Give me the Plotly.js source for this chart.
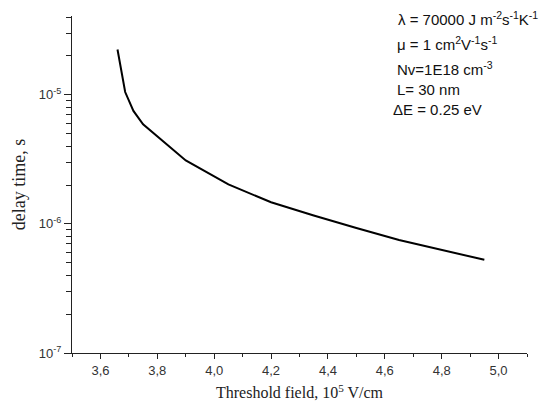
<!DOCTYPE html>
<html>
<head>
<meta charset="utf-8">
<script src="https://cdn.plot.ly/plotly-3.0.1.min.js"></script>
<style>html,body{margin:0;padding:0;background:#fff;}#chart{width:553px;height:411px;}</style>
</head>
<body>
<div id="chart"></div>
<script>
// Data
var fieldValues = [3.66, 3.687, 3.716, 3.75, 3.9, 4.05, 4.2, 4.35, 4.5, 4.65, 4.95];
var delayValues = [2.24e-5, 1.05e-5, 7.5e-6, 5.9e-6, 3.1e-6, 2.02e-6, 1.47e-6, 1.16e-6, 9.3e-7, 7.5e-7, 5.27e-7];
var yTickVals = [1e-7, 1e-6, 1e-5];
var yTickText = ['10<sup>-7</sup>', '10<sup>-6</sup>', '10<sup>-5</sup>'];
var xTickVals = [3.6, 3.8, 4.0, 4.2, 4.4, 4.6, 4.8, 5.0];
var xTickText = ['3,6', '3,8', '4,0', '4,2', '4,4', '4,6', '4,8', '5,0'];
var paramLines = [
  'λ = 70000 J m<sup>-2</sup>s<sup>-1</sup>K<sup>-1</sup>',
  'μ = 1 cm<sup>2</sup>V<sup>-1</sup>s<sup>-1</sup>',
  'Nv=1E18 cm<sup>-3</sup>',
  'L= 30 nm',
  'ΔE = 0.25 eV'
];

// minor tick positions for log axis (2..9 per decade)
var yMinor = [];
[1e-7, 1e-6, 1e-5].forEach(function (d) {
  for (var k = 2; k <= 9; k++) { yMinor.push(k * d); }
});

var plotL = 72, plotR = 527, plotT = 16, plotB = 353;
function px(x) { return (x - plotL) / (plotR - plotL); }
function py(y) { return (plotB - y) / (plotB - plotT); }
var lineX = [396, 395, 395, 395, 391];
var lineY = [19, 44, 68, 89, 109];

var annotations = paramLines.map(function (t, i) {
  return {
    xref: 'paper', yref: 'paper', x: px(lineX[i]), y: py(lineY[i]),
    xanchor: 'left', yanchor: 'middle', showarrow: false, text: t,
    font: {family: 'Liberation Sans, Arial, sans-serif', size: 15, color: '#111'}
  };
});

var trace = {
  x: fieldValues, y: delayValues, type: 'scatter', mode: 'lines',
  line: {color: '#000', width: 2}, hoverinfo: 'none'
};

var layout = {
  width: 553, height: 411,
  margin: {l: plotL, r: 553 - plotR, t: plotT, b: 411 - plotB},
  paper_bgcolor: '#fff', plot_bgcolor: '#fff',
  showlegend: false,
  xaxis: {
    range: [3.5, 5.1], showgrid: false, zeroline: false,
    showline: true, linecolor: '#222', linewidth: 1,
    ticks: 'outside', ticklen: 5, tickwidth: 1, tickcolor: '#222',
    tickmode: 'array', tickvals: xTickVals, ticktext: xTickText,
    tickfont: {family: 'Liberation Sans, Arial, sans-serif', size: 13, color: '#333'},
    minor: {tickmode: 'linear', tick0: 3.5, dtick: 0.1, ticks: 'outside', ticklen: 3, tickwidth: 1, tickcolor: '#222', showgrid: false},
    title: {text: 'Threshold field, 10<sup>5</sup> V/cm', standoff: 10,
      font: {family: 'Liberation Serif, Times New Roman, serif', size: 16, color: '#222'}}
  },
  yaxis: {
    type: 'log', range: [-7, -4.39], showgrid: false, zeroline: false,
    showline: true, linecolor: '#222', linewidth: 1,
    ticks: 'outside', ticklen: 7, tickwidth: 1, tickcolor: '#222',
    tickmode: 'array', tickvals: yTickVals, ticktext: yTickText,
    tickfont: {family: 'Liberation Sans, Arial, sans-serif', size: 13, color: '#333'},
    minor: {tickmode: 'array', tickvals: yMinor, ticks: 'outside', ticklen: 5, tickwidth: 1, tickcolor: '#222', showgrid: false},
    title: {text: 'delay time, s', standoff: 8,
      font: {family: 'Liberation Serif, Times New Roman, serif', size: 18, color: '#222'}}
  },
  annotations: annotations
};

Plotly.newPlot('chart', [trace], layout, {staticPlot: true, displayModeBar: false});
</script>
</body>
</html>
